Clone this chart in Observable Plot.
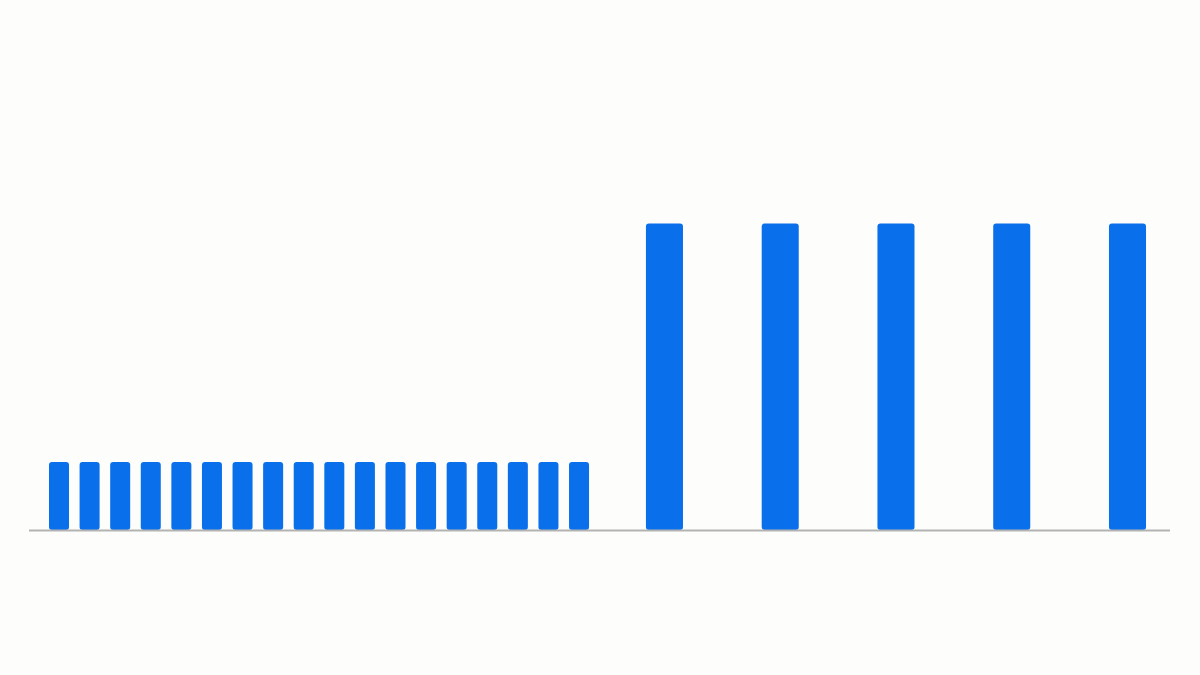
<!DOCTYPE html>
<html>
<head>
<meta charset="utf-8">
<script src="https://cdn.jsdelivr.net/npm/d3@7"></script>
<script src="https://cdn.jsdelivr.net/npm/@observablehq/plot@0.6"></script>
<style>
  html, body { margin: 0; padding: 0; background: #fdfdfb; }
  #wrap { position: relative; width: 1200px; height: 675px; overflow: hidden; background: #fdfdfb; }
  #left, #right { position: absolute; top: 0; }
  #left { left: 0; }
  #right { left: 600px; }
  svg { background: transparent !important; display: block; }
</style>
</head>
<body>
<div id="wrap"><div id="left"></div><div id="right"></div></div>
<script>
// Data
const smallCategories = ["A1","A2","A3","A4","A5","A6","A7","A8","A9","A10","A11","A12","A13","A14","A15","A16","A17","A18"];
const smallValues = [2,2,2,2,2,2,2,2,2,2,2,2,2,2,2,2,2,2];
const tallCategories = ["B1","B2","B3","B4","B5"];
const tallValues = [9,9,9,9,9];

const barColor = "#0a6fea";
const ruleColor = "#b3b3b3";
const yDomain = [0, 10];

const small = smallCategories.map((c, i) => ({cat: c, value: smallValues[i]}));
const tall = tallCategories.map((c, i) => ({cat: c, value: tallValues[i]}));

const common = {
  height: 675,
  marginTop: 189.4,
  marginBottom: 145,
  style: {background: "transparent"},
  y: {domain: yDomain, axis: null}
};

const left = Plot.plot({
  ...common,
  width: 600,
  marginLeft: 29,
  marginRight: 0,
  x: {domain: smallCategories, axis: null, round: false, paddingInner: 0.346, paddingOuter: 0.506, align: 0.646},
  marks: [
    Plot.barY(small, {x: "cat", y: "value", fill: barColor, rx: 3}),
    Plot.ruleY([0], {stroke: ruleColor, strokeWidth: 2})
  ]
});

const right = Plot.plot({
  ...common,
  width: 600,
  marginLeft: 0,
  marginRight: 30,
  x: {domain: tallCategories, axis: null, round: false, paddingInner: 0.68, paddingOuter: 0.302, align: 0.657},
  marks: [
    Plot.barY(tall, {x: "cat", y: "value", fill: barColor, rx: 3}),
    Plot.ruleY([0], {stroke: ruleColor, strokeWidth: 2})
  ]
});

document.getElementById("left").appendChild(left);
document.getElementById("right").appendChild(right);
</script>
</body>
</html>
